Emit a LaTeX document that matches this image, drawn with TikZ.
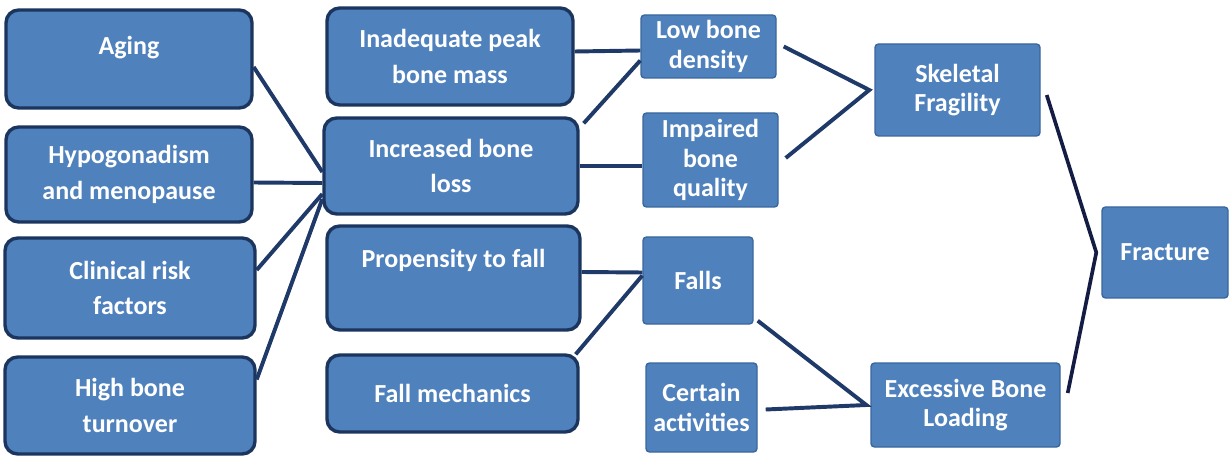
\documentclass[tikz,border=0pt]{standalone}
\usepackage{fontspec}
\setmainfont{Carlito}
\usetikzlibrary{calc}
\definecolor{boxblue}{HTML}{4F81BD}
\definecolor{boxline}{HTML}{1C355E}
\definecolor{thinline}{HTML}{3A679E}
\definecolor{linkblue}{HTML}{1F3A68}
\definecolor{darklink}{HTML}{141C44}
\tikzset{
 bigbox/.style={draw=boxline, line width=2.4pt, rounded corners=9pt, fill=boxblue, text=white,
  font=\bfseries\fontsize{18.5}{25.5}\selectfont, align=center, inner sep=1pt},
 smallbox/.style={draw=thinline, line width=1pt, rounded corners=2.5pt, fill=boxblue, text=white,
  font=\bfseries\fontsize{18.5}{21}\selectfont, align=center, inner sep=1pt},
 wh/.style n args={2}{minimum width=#1*0.025cm, minimum height=#2*0.025cm},
 link/.style={draw=linkblue, line width=2.8pt},
 farlink/.style={draw=darklink, line width=2.6pt}
}
\begin{document}
\begin{tikzpicture}[x=0.025cm, y=-0.025cm]
 \useasboundingbox (0,0) rectangle (1229,458);
 \node[bigbox, wh={246}{98}, text depth=19pt] (aging) at (129,59) {Aging};
 \node[bigbox, wh={246}{95}] (hypo) at (129,174.5) {Hypogonadism\\and menopause};
 \node[bigbox, wh={250}{100}] (clin) at (130,288) {Clinical risk\\factors};
 \node[bigbox, wh={250}{97}] (turn) at (130,405.5) {High bone\\turnover};
 \node[bigbox, wh={246}{97}] (peak) at (450,56.5) {Inadequate peak\\bone mass};
 \node[bigbox, wh={254}{96}] (loss) at (451,166) {Increased bone\\loss};
 \node[bigbox, wh={253}{104}, text depth=28pt] (prop) at (453.5,278) {Propensity to fall};
 \node[bigbox, wh={251}{77}] (mech) at (452.5,393.5) {Fall mechanics};
 \node[smallbox, wh={135}{63}] (dens) at (708.5,46.5) {Low bone\\density};
 \node[smallbox, wh={135}{94}] (qual) at (710.5,160) {Impaired\\bone\\quality};
 \node[smallbox, wh={110}{87}] (falls) at (698,280.5) {Falls};
 \node[smallbox, wh={111}{89}] (act) at (701.5,407.5) {Certain\\activities};
 \node[smallbox, wh={165}{92}] (frag) at (957.5,90) {Skeletal\\Fragility};
 \node[smallbox, wh={189}{84}] (load) at (965.5,405) {Excessive Bone\\Loading};
 \node[smallbox, wh={126}{91}] (frac) at (1165,252.5) {Fracture};
 \coordinate (fragin) at ($(frag.west)+(-5,0)$);
 \coordinate (loadin) at ($(load.west)+(-4,0)$);
 \coordinate (fracin) at ($(frac.west)+(-5,0)$);
 \draw[link] ($(aging.east)+(0,8)$) -- ($(loss.west)+(0,6)$);
 \draw[link] ($(hypo.east)+(0,8)$) -- ($(loss.west)+(0,17)$);
 \draw[link] ($(clin.east)+(0,-18)$) -- ($(loss.west)+(0,28)$);
 \draw[link] ($(turn.east)+(0,-26)$) -- ($(loss.west)+(0,33)$);
 \draw[link] ($(peak.east)+(0,-5)$) -- ($(dens.west)+(0,4)$);
 \draw[link] ($(loss.north east)+(4,7)$) -- ($(dens.west)+(0,14)$);
 \draw[link] (loss.east) -- ($(qual.west)+(0,6)$);
 \draw[link] ($(prop.east)+(0,-6)$) -- ($(falls.west)+(0,-8)$);
 \draw[link] ($(mech.north east)+(-4,1)$) -- ($(falls.west)+(0,-5)$);
 \draw[link] ($(dens.east)+(7,0)$) -- (fragin) -- ($(qual.east)+(7,-2)$);
 \draw[link] ($(falls.south east)+(4,-4)$) -- (loadin) -- ($(act.east)+(8,2)$);
 \draw[farlink] ($(frag.east)+(6,5)$) -- (fracin) -- ($(load.east)+(7,-12)$);
\end{tikzpicture}
\end{document}
